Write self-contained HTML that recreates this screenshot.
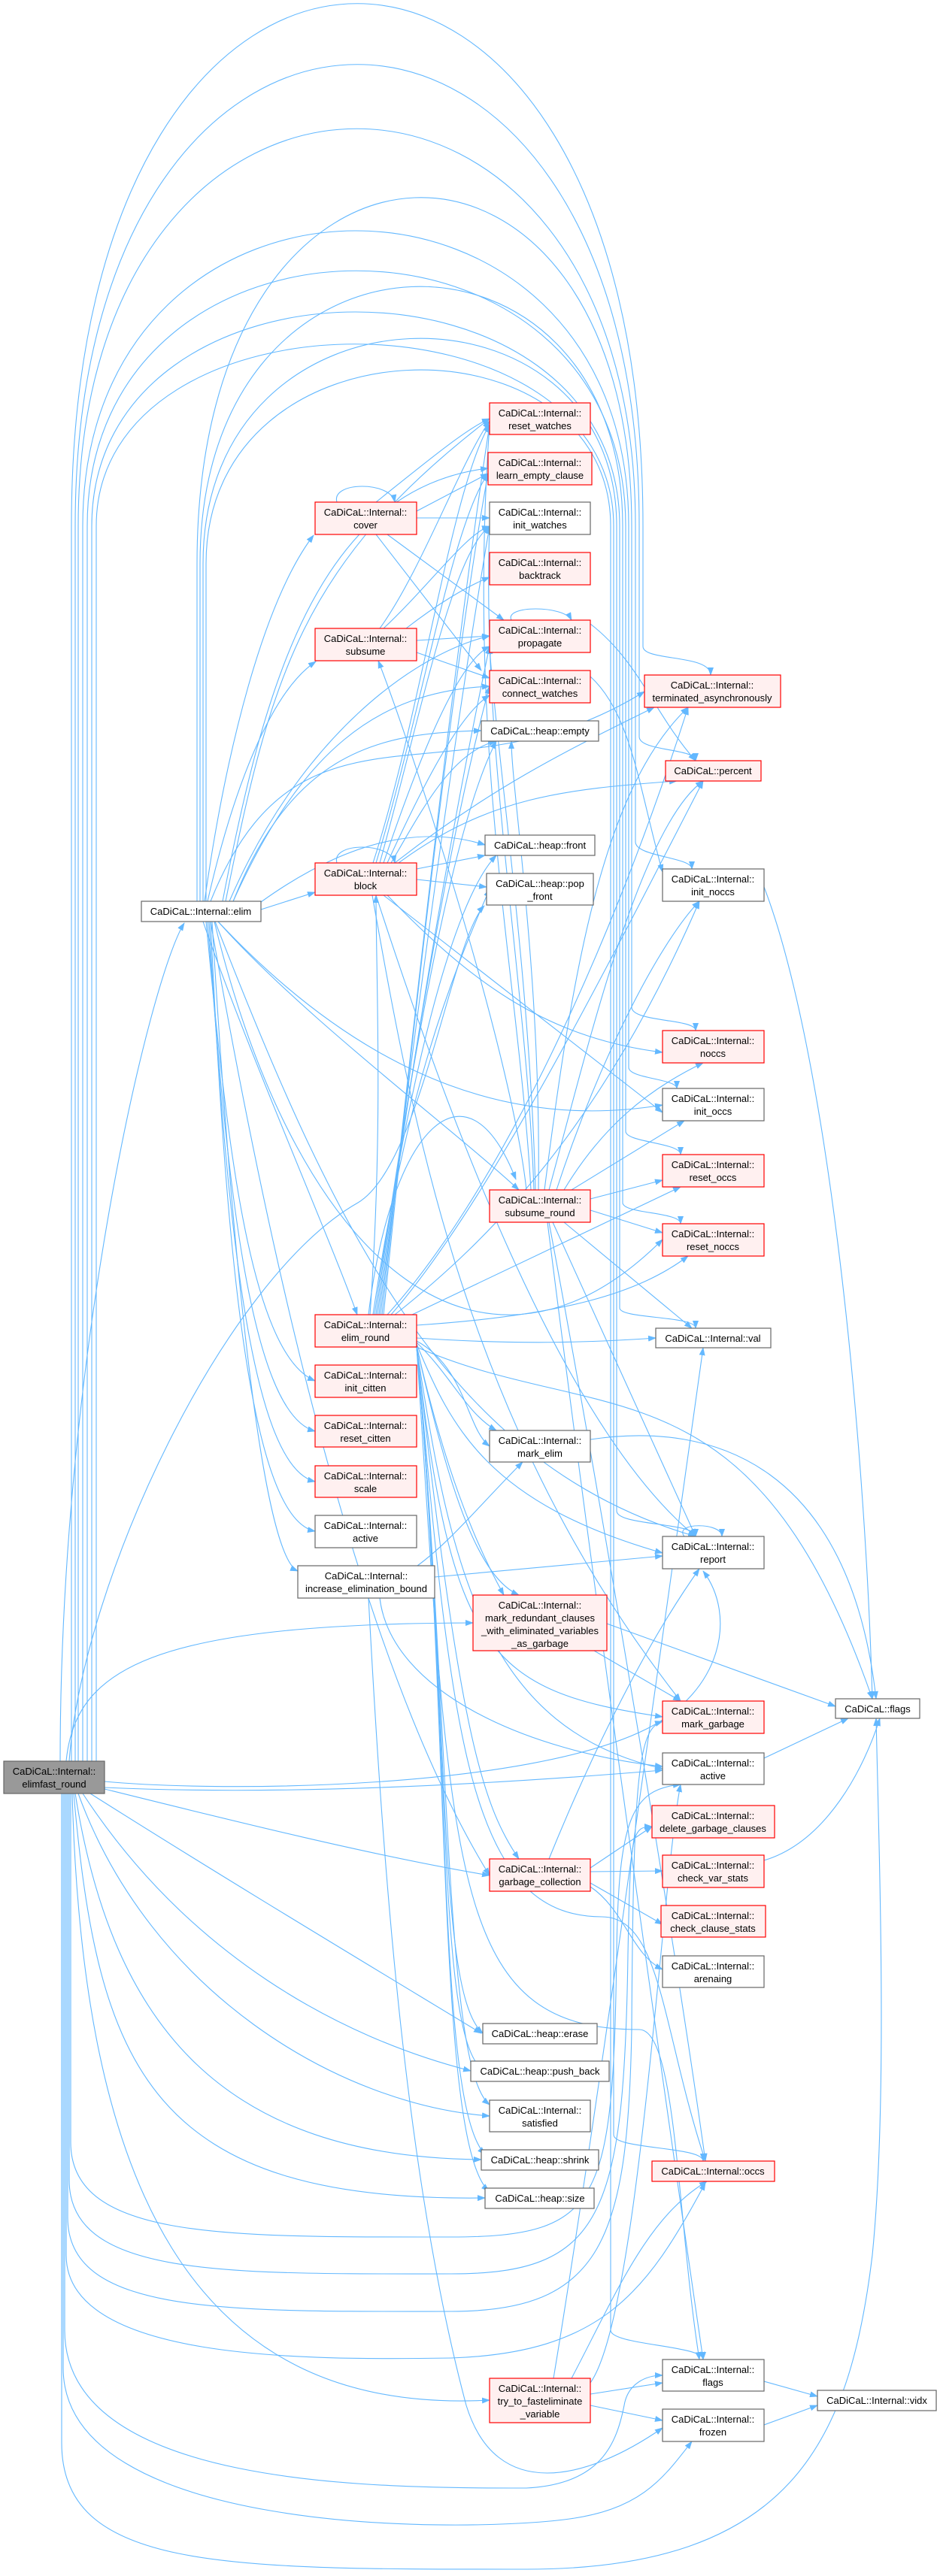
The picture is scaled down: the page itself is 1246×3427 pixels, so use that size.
<!DOCTYPE html>
<html><head><meta charset="utf-8"><style>
html,body{margin:0;padding:0;background:#fff;}
svg{display:block;}
text{font-family:"Liberation Sans",Arial,sans-serif;font-size:13px;fill:#000;text-anchor:middle;}
.e{fill:none;stroke:#63b8ff;stroke-width:1.1;marker-end:url(#a);}
.r{fill:#fff0f0;stroke:#ff0000;stroke-width:1.2;}
.w{fill:#fff;stroke:#666;stroke-width:1.2;}
.g{fill:#999;stroke:#666;stroke-width:1.2;}
</style></head><body>
<svg width="1246" height="3427" viewBox="0 0 1246 3427" xmlns="http://www.w3.org/2000/svg">
<defs><marker id="a" markerWidth="11" markerHeight="8" refX="10" refY="4" orient="auto" markerUnits="userSpaceOnUse"><path d="M0,0 L11,4 L0,8 z" fill="#63b8ff"/></marker></defs>
<g>
<!-- top arcs -->
<path class="e" d="M95,2343 L95,700 C95,-227 855,-227 855,700 L855,860 C855,880 945,870 945,898"/>
<path class="e" d="M100,2343 L100,700 C100,-119 850,-119 850,700 L850,980 C850,1000 925,995 925,1012"/>
<path class="e" d="M104,2343 L104,700 C104,-5 845,-5 845,700 L845,1120 C845,1140 920,1140 920,1156"/>
<path class="e" d="M262,1199 L262,750 C262,109 840,109 840,700 L840,1340 C840,1360 925,1355 925,1371"/>
<path class="e" d="M110,2343 L110,700 C110,176 836,176 836,700 L836,1420 C836,1435 900,1435 900,1448"/>
<path class="e" d="M116,2343 L116,700 C116,247 832,247 832,700 L832,1505 C832,1520 905,1520 905,1536"/>
<path class="e" d="M266,1199 L266,750 C266,267 828,267 828,700 L828,1600 C828,1615 905,1612 905,1628"/>
<path class="e" d="M122,2343 L122,700 C122,320 824,320 824,700 L824,1740 C824,1755 925,1750 925,1767"/>
<path class="e" d="M270,1199 L270,750 C270,359 820,359 820,700 L820,2010 C820,2030 925,2025 925,2044"/>
<path class="e" d="M128,2343 L128,700 C128,377 816,377 816,700 L816,2840 C816,2860 935,2855 935,2875"/>
<path class="e" d="M274,1199 L274,750 C274,415 812,415 812,700 L812,3100 C812,3120 935,3120 935,3139"/>
<!-- elimfast direct -->
<path class="e" d="M80,2343 C80,1800 200,1300 245,1228"/>
<path class="e" d="M88,2343 C100,2220 200,2160 629,2159"/>
<path class="e" d="M92,2343 C110,2100 300,1700 476,1600 C560,1550 600,1250 644,1205"/>
<path class="e" d="M139,2370 C300,2385 700,2380 860,2300 C960,2250 980,2150 935,2090"/>
<path class="e" d="M139,2378 C400,2390 700,2370 881,2355"/>
<path class="e" d="M139,2380 C300,2420 500,2470 651,2495"/>
<path class="e" d="M120,2386 C300,2500 500,2620 640,2705"/>
<path class="e" d="M110,2386 C250,2600 450,2710 626,2755"/>
<path class="e" d="M104,2386 C200,2650 450,2800 651,2815"/>
<path class="e" d="M100,2386 C150,2700 300,2870 640,2873"/>
<path class="e" d="M98,2386 C130,2750 200,2930 645,2924"/>
<path class="e" d="M96,2386 C110,2900 250,3215 651,3193"/>
<path class="e" d="M94,2386 L94,2850 C94,2980 300,2976 600,2976 C800,2976 815,2930 820,2600 C822,2420 840,2380 905,2374"/>
<path class="e" d="M92,2386 L92,2900 C92,3030 300,3025 600,3025 C800,3025 830,2950 835,2600 C838,2440 840,2430 867,2430"/>
<path class="e" d="M90,2386 L90,2950 C90,3080 300,3075 600,3075 C800,3075 835,2980 840,2700 C842,2350 850,2300 881,2290"/>
<path class="e" d="M88,2386 L88,3000 C88,3140 400,3140 600,3137 C800,3130 860,3050 938,2904"/>
<path class="e" d="M86,2386 L86,3100 C86,3310 500,3310 700,3310 C800,3305 820,3250 830,3200 C835,3170 860,3160 881,3160"/>
<path class="e" d="M84,2386 L84,3150 C84,3370 600,3370 750,3352 C850,3340 880,3300 920,3248"/>
<path class="e" d="M82,2386 L82,3250 C82,3420 300,3418 700,3418 C1050,3418 1130,3250 1160,3000 C1180,2800 1170,2500 1165,2286"/>
<!-- elim -->
<path class="e" d="M272,1199 C300,1000 350,800 417,712"/>
<path class="e" d="M276,1199 C310,1050 360,920 420,880"/>
<path class="e" d="M347,1210 L419,1187"/>
<path class="e" d="M270,1226 C330,1400 440,1650 475,1749"/>
<path class="e" d="M274,1226 C300,1500 330,1800 419,1837"/>
<path class="e" d="M276,1226 C300,1550 330,1880 419,1904"/>
<path class="e" d="M278,1226 C300,1600 330,1950 419,1971"/>
<path class="e" d="M280,1226 C300,1650 330,2020 419,2037"/>
<path class="e" d="M282,1226 C310,1700 350,2070 396,2090"/>
<path class="e" d="M290,1226 C400,1350 600,1500 690,1583"/>
<path class="e" d="M300,1199 C360,900 400,750 651,557"/>
<path class="e" d="M296,1199 C350,920 420,650 649,623"/>
<path class="e" d="M300,1226 C380,1000 500,975 640,972"/>
<path class="e" d="M347,1200 C500,1090 600,1110 645,1124"/>
<path class="e" d="M310,1199 C400,1000 500,920 651,913"/>
<path class="e" d="M305,1199 C400,980 550,870 651,846"/>
<path class="e" d="M280,1199 C400,900 600,1080 857,920"/>
<path class="e" d="M290,1226 C500,1450 700,1500 881,1470"/>
<path class="e" d="M285,1226 C400,1700 650,1880 881,1649"/>
<path class="e" d="M286,1226 C450,1650 600,1950 925,2044"/>
<path class="e" d="M280,1226 C380,1800 500,2250 651,2495"/>
<!-- cover -->
<path class="e" d="M448,668 C440,640 520,640 525,668"/>
<path class="e" d="M500,668 C560,620 620,570 651,557"/>
<path class="e" d="M554,680 L649,630"/>
<path class="e" d="M554,689 L651,689"/>
<path class="e" d="M515,711 L670,825"/>
<path class="e" d="M500,711 L640,892"/>
<!-- subsume -->
<path class="e" d="M505,836 C560,760 610,620 651,560"/>
<path class="e" d="M510,836 C570,780 620,710 651,700"/>
<path class="e" d="M540,836 C580,805 620,780 651,768"/>
<path class="e" d="M554,852 L651,846"/>
<path class="e" d="M554,868 L651,902"/>
<path class="e" d="M554,845 C700,790 700,760 651,700" style="display:none"/>
<!-- block -->
<path class="e" d="M448,1148 C440,1120 520,1120 525,1148"/>
<path class="e" d="M496,1148 C560,950 600,650 651,565"/>
<path class="e" d="M500,1148 C560,950 600,700 649,630"/>
<path class="e" d="M505,1148 C560,950 600,740 651,700"/>
<path class="e" d="M510,1148 C560,1000 610,880 651,860"/>
<path class="e" d="M515,1148 C560,1050 610,950 651,925"/>
<path class="e" d="M520,1148 C560,1080 600,1000 660,986"/>
<path class="e" d="M554,1156 L645,1138"/>
<path class="e" d="M554,1170 L647,1180"/>
<path class="e" d="M525,1148 C650,1050 750,1000 870,941"/>
<path class="e" d="M530,1148 C650,1060 750,1050 900,1039"/>
<path class="e" d="M515,1191 C620,1300 720,1380 881,1400"/>
<path class="e" d="M510,1191 L881,1480"/>
<path class="e" d="M500,1191 C600,1500 750,1900 925,2044"/>
<path class="e" d="M495,1191 C550,1500 620,1900 905,2263"/>
<!-- subsume_round -->
<path class="e" d="M700,1583 C680,1400 550,1000 503,879"/>
<path class="e" d="M706,1583 C690,1300 620,1000 651,565"/>
<path class="e" d="M710,1583 C700,1300 640,1000 651,700"/>
<path class="e" d="M712,1583 C705,1300 660,1000 651,860"/>
<path class="e" d="M716,1583 C720,1300 680,1050 680,986"/>
<path class="e" d="M724,1583 C760,1300 800,1050 915,941"/>
<path class="e" d="M730,1583 C780,1400 850,1100 935,1039"/>
<path class="e" d="M740,1583 C800,1400 880,1250 930,1199"/>
<path class="e" d="M750,1583 C800,1500 860,1450 935,1414"/>
<path class="e" d="M760,1583 L910,1491"/>
<path class="e" d="M785,1595 L881,1570"/>
<path class="e" d="M785,1610 L881,1640"/>
<path class="e" d="M750,1626 L920,1767"/>
<path class="e" d="M735,1626 L925,2044"/>
<path class="e" d="M730,1626 C800,2000 900,2600 938,2875"/>
<path class="e" d="M728,1626 C800,2200 900,2900 935,3139"/>
<!-- elim_round -->
<path class="e" d="M490,1749 C520,1500 620,1400 686,1569"/>
<path class="e" d="M492,1749 C510,1500 500,1300 500,1191"/>
<path class="e" d="M496,1749 C540,1450 600,1300 651,1183"/>
<path class="e" d="M498,1749 C540,1450 600,1200 660,1138"/>
<path class="e" d="M500,1749 C540,1450 600,1100 660,986"/>
<path class="e" d="M502,1749 C540,1450 600,1100 651,913"/>
<path class="e" d="M504,1749 C540,1450 600,1100 651,860"/>
<path class="e" d="M506,1749 C540,1450 600,1000 651,700"/>
<path class="e" d="M508,1749 C540,1450 600,900 651,565"/>
<path class="e" d="M510,1749 C540,1450 600,900 649,630"/>
<path class="e" d="M515,1749 C650,1600 800,1300 915,941"/>
<path class="e" d="M520,1749 C650,1600 800,1300 935,1039"/>
<path class="e" d="M525,1749 C650,1650 800,1500 930,1199"/>
<path class="e" d="M548,1749 L905,1579"/>
<path class="e" d="M554,1763 C750,1750 850,1720 915,1671"/>
<path class="e" d="M554,1780 C700,1790 800,1785 872,1780"/>
<path class="e" d="M554,1784 C620,1820 620,1900 651,1924"/>
<path class="e" d="M554,1786 C600,1830 620,1880 660,1903"/>
<path class="e" d="M554,1788 C600,1900 650,2000 881,2066"/>
<path class="e" d="M554,1790 C590,1950 630,2050 670,2122"/>
<path class="e" d="M554,1790 C600,2000 640,2100 690,2122"/>
<path class="e" d="M554,1792 C600,2200 650,2250 881,2284"/>
<path class="e" d="M554,1792 C600,2100 650,2300 881,2353"/>
<path class="e" d="M554,1792 C610,2300 640,2400 690,2473"/>
<path class="e" d="M554,1792 C600,2300 580,2650 642,2705"/>
<path class="e" d="M554,1792 C600,2300 580,2700 640,2752"/>
<path class="e" d="M554,1792 C600,2300 590,2750 651,2800"/>
<path class="e" d="M554,1792 C600,2300 580,2800 645,2866"/>
<path class="e" d="M554,1792 C600,2300 580,2850 650,2915"/>
<path class="e" d="M554,1792 C600,2300 620,2550 800,2550 C880,2550 880,2700 938,2875"/>
<path class="e" d="M554,1792 C600,2500 600,2700 850,2700 C900,2700 900,2950 930,3139"/>
<path class="e" d="M554,1792 C800,1900 1000,1800 1160,2260"/>
<path class="e" d="M480,1749 C520,1620 600,1560 760,1600 C820,1620 860,1620 881,1660" style="display:none"/>
<!-- increase_elimination_bound -->
<path class="e" d="M555,2083 C600,2050 640,2000 695,1945"/>
<path class="e" d="M578,2098 L881,2070"/>
<path class="e" d="M490,2126 C510,2500 540,2900 620,3200 C660,3330 780,3300 881,3230"/>
<path class="e" d="M505,2126 C520,2250 700,2330 881,2350"/>
<!-- others -->
<path class="e" d="M785,1915 C950,1890 1130,1950 1165,2260"/>
<path class="e" d="M807,2160 L1111,2270"/>
<path class="e" d="M790,2196 L905,2263"/>
<path class="e" d="M1016,2339 L1128,2286"/>
<path class="e" d="M1016,2475 C1100,2450 1150,2350 1170,2286"/>
<path class="e" d="M785,2485 L867,2430"/>
<path class="e" d="M785,2490 L881,2489"/>
<path class="e" d="M785,2505 L881,2560"/>
<path class="e" d="M785,2510 C830,2540 840,2600 881,2620"/>
<path class="e" d="M730,2473 C780,2350 850,2200 930,2087"/>
<path class="e" d="M736,3164 C780,2900 850,2400 935,1793"/>
<path class="e" d="M760,3164 C820,3050 860,2950 940,2902"/>
<path class="e" d="M785,3170 C850,3080 880,2500 905,2374"/>
<path class="e" d="M785,3185 L881,3170"/>
<path class="e" d="M785,3200 L881,3220"/>
<path class="e" d="M1016,3168 L1087,3188"/>
<path class="e" d="M1016,3226 L1087,3200"/>
<path class="e" d="M910,2044 C895,2025 960,2025 960,2044"/>
<path class="e" d="M680,825 C670,805 750,805 760,825"/>
<path class="e" d="M785,830 C850,880 870,950 925,1012"/>
<path class="e" d="M785,900 C840,950 850,1050 881,1160"/>
<path class="e" d="M1016,1180 C1100,1400 1150,1900 1160,2260"/>
</g>
<!-- nodes -->
<g>
<rect class="g" x="5" y="2343" width="134" height="43"/><text x="72" y="2361">CaDiCaL::Internal::</text><text x="72" y="2378">elimfast_round</text>
<rect class="w" x="188" y="1199" width="159" height="27"/><text x="267" y="1217">CaDiCaL::Internal::elim</text>
<rect class="r" x="419" y="668" width="135" height="43"/><text x="486" y="686">CaDiCaL::Internal::</text><text x="486" y="703">cover</text>
<rect class="r" x="419" y="836" width="135" height="43"/><text x="486" y="854">CaDiCaL::Internal::</text><text x="486" y="871">subsume</text>
<rect class="r" x="419" y="1148" width="135" height="43"/><text x="486" y="1166">CaDiCaL::Internal::</text><text x="486" y="1183">block</text>
<rect class="r" x="419" y="1749" width="135" height="43"/><text x="486" y="1767">CaDiCaL::Internal::</text><text x="486" y="1784">elim_round</text>
<rect class="r" x="419" y="1816" width="135" height="43"/><text x="486" y="1834">CaDiCaL::Internal::</text><text x="486" y="1851">init_citten</text>
<rect class="r" x="419" y="1883" width="135" height="42"/><text x="486" y="1901">CaDiCaL::Internal::</text><text x="486" y="1918">reset_citten</text>
<rect class="r" x="419" y="1950" width="135" height="42"/><text x="486" y="1968">CaDiCaL::Internal::</text><text x="486" y="1985">scale</text>
<rect class="w" x="419" y="2016" width="135" height="43"/><text x="486" y="2034">CaDiCaL::Internal::</text><text x="486" y="2051">active</text>
<rect class="w" x="396" y="2083" width="182" height="43"/><text x="487" y="2101">CaDiCaL::Internal::</text><text x="487" y="2118">increase_elimination_bound</text>
<rect class="r" x="651" y="536" width="134" height="42"/><text x="718" y="554">CaDiCaL::Internal::</text><text x="718" y="571">reset_watches</text>
<rect class="r" x="649" y="602" width="138" height="43"/><text x="718" y="620">CaDiCaL::Internal::</text><text x="718" y="637">learn_empty_clause</text>
<rect class="w" x="651" y="668" width="134" height="43"/><text x="718" y="686">CaDiCaL::Internal::</text><text x="718" y="703">init_watches</text>
<rect class="r" x="651" y="735" width="134" height="43"/><text x="718" y="753">CaDiCaL::Internal::</text><text x="718" y="770">backtrack</text>
<rect class="r" x="651" y="825" width="134" height="43"/><text x="718" y="843">CaDiCaL::Internal::</text><text x="718" y="860">propagate</text>
<rect class="r" x="651" y="892" width="134" height="43"/><text x="718" y="910">CaDiCaL::Internal::</text><text x="718" y="927">connect_watches</text>
<rect class="w" x="640" y="959" width="156" height="27"/><text x="718" y="977">CaDiCaL::heap::empty</text>
<rect class="w" x="645" y="1111" width="146" height="27"/><text x="718" y="1129">CaDiCaL::heap::front</text>
<rect class="w" x="647" y="1162" width="142" height="42"/><text x="718" y="1180">CaDiCaL::heap::pop</text><text x="718" y="1197">_front</text>
<rect class="r" x="651" y="1583" width="134" height="43"/><text x="718" y="1601">CaDiCaL::Internal::</text><text x="718" y="1618">subsume_round</text>
<rect class="w" x="651" y="1903" width="134" height="42"/><text x="718" y="1921">CaDiCaL::Internal::</text><text x="718" y="1938">mark_elim</text>
<rect class="r" x="629" y="2122" width="178" height="74"/><text x="718" y="2140">CaDiCaL::Internal::</text><text x="718" y="2157">mark_redundant_clauses</text><text x="718" y="2174">_with_eliminated_variables</text><text x="718" y="2191">_as_garbage</text>
<rect class="r" x="651" y="2473" width="134" height="43"/><text x="718" y="2491">CaDiCaL::Internal::</text><text x="718" y="2508">garbage_collection</text>
<rect class="w" x="642" y="2692" width="152" height="27"/><text x="718" y="2710">CaDiCaL::heap::erase</text>
<rect class="w" x="626" y="2742" width="184" height="27"/><text x="718" y="2760">CaDiCaL::heap::push_back</text>
<rect class="w" x="651" y="2794" width="134" height="42"/><text x="718" y="2812">CaDiCaL::Internal::</text><text x="718" y="2829">satisfied</text>
<rect class="w" x="640" y="2860" width="156" height="27"/><text x="718" y="2878">CaDiCaL::heap::shrink</text>
<rect class="w" x="645" y="2911" width="145" height="27"/><text x="718" y="2929">CaDiCaL::heap::size</text>
<rect class="r" x="651" y="3164" width="134" height="59"/><text x="718" y="3182">CaDiCaL::Internal::</text><text x="718" y="3199">try_to_fasteliminate</text><text x="718" y="3216">_variable</text>
<rect class="r" x="857" y="898" width="181" height="43"/><text x="947" y="916">CaDiCaL::Internal::</text><text x="947" y="933">terminated_asynchronously</text>
<rect class="r" x="885" y="1012" width="127" height="27"/><text x="948" y="1030">CaDiCaL::percent</text>
<rect class="w" x="881" y="1156" width="135" height="43"/><text x="948" y="1174">CaDiCaL::Internal::</text><text x="948" y="1191">init_noccs</text>
<rect class="r" x="881" y="1371" width="135" height="43"/><text x="948" y="1389">CaDiCaL::Internal::</text><text x="948" y="1406">noccs</text>
<rect class="w" x="881" y="1448" width="135" height="43"/><text x="948" y="1466">CaDiCaL::Internal::</text><text x="948" y="1483">init_occs</text>
<rect class="r" x="881" y="1536" width="135" height="43"/><text x="948" y="1554">CaDiCaL::Internal::</text><text x="948" y="1571">reset_occs</text>
<rect class="r" x="881" y="1628" width="135" height="43"/><text x="948" y="1646">CaDiCaL::Internal::</text><text x="948" y="1663">reset_noccs</text>
<rect class="w" x="872" y="1767" width="153" height="26"/><text x="948" y="1785">CaDiCaL::Internal::val</text>
<rect class="w" x="881" y="2044" width="135" height="43"/><text x="948" y="2062">CaDiCaL::Internal::</text><text x="948" y="2079">report</text>
<rect class="w" x="1111" y="2260" width="112" height="26"/><text x="1167" y="2278">CaDiCaL::flags</text>
<rect class="r" x="881" y="2263" width="135" height="43"/><text x="948" y="2281">CaDiCaL::Internal::</text><text x="948" y="2298">mark_garbage</text>
<rect class="w" x="881" y="2332" width="135" height="42"/><text x="948" y="2350">CaDiCaL::Internal::</text><text x="948" y="2367">active</text>
<rect class="r" x="867" y="2402" width="163" height="43"/><text x="948" y="2420">CaDiCaL::Internal::</text><text x="948" y="2437">delete_garbage_clauses</text>
<rect class="r" x="881" y="2468" width="135" height="43"/><text x="948" y="2486">CaDiCaL::Internal::</text><text x="948" y="2503">check_var_stats</text>
<rect class="r" x="879" y="2535" width="139" height="42"/><text x="948" y="2553">CaDiCaL::Internal::</text><text x="948" y="2570">check_clause_stats</text>
<rect class="w" x="881" y="2602" width="135" height="42"/><text x="948" y="2620">CaDiCaL::Internal::</text><text x="948" y="2637">arenaing</text>
<rect class="r" x="867" y="2875" width="163" height="27"/><text x="948" y="2893">CaDiCaL::Internal::occs</text>
<rect class="w" x="881" y="3139" width="135" height="42"/><text x="948" y="3157">CaDiCaL::Internal::</text><text x="948" y="3174">flags</text>
<rect class="w" x="881" y="3205" width="135" height="43"/><text x="948" y="3223">CaDiCaL::Internal::</text><text x="948" y="3240">frozen</text>
<rect class="w" x="1087" y="3180" width="158" height="27"/><text x="1166" y="3198">CaDiCaL::Internal::vidx</text>
</g>
</svg>
</body></html>
